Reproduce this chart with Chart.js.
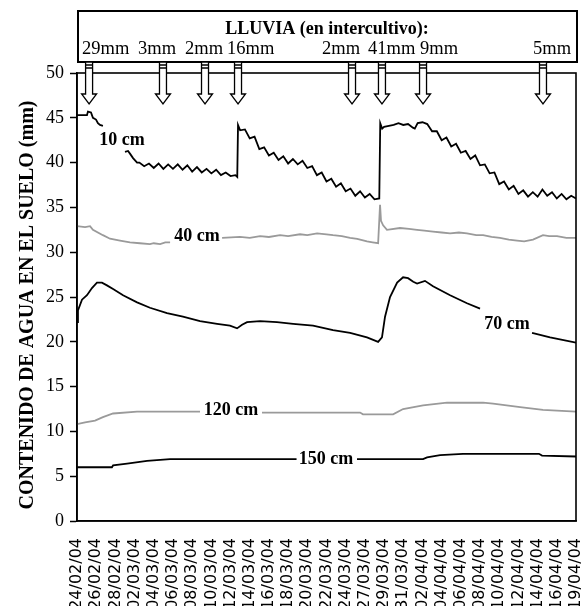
<!DOCTYPE html>
<html><head><meta charset="utf-8">
<script src="https://cdn.jsdelivr.net/npm/chart.js@4.4.0/dist/chart.umd.min.js"></script>
<style>html,body{margin:0;padding:0;background:#fff;}</style>
</head><body>
<canvas id="c" width="582" height="606"></canvas>
<script>
// ---- DATA ----
const dateLabels = ["24/02/04","26/02/04","28/02/04","02/03/04","04/03/04","06/03/04","08/03/04","10/03/04","12/03/04","14/03/04","16/03/04","18/03/04","20/03/04","22/03/04","24/03/04","27/03/04","29/03/04","31/03/04","02/04/04","04/04/04","06/04/04","08/04/04","10/04/04","12/04/04","14/04/04","16/04/04","19/04/04"];
const yTicks = [0,5,10,15,20,25,30,35,40,45,50];
const rainTitle = "LLUVIA (en intercultivo):";
const rainMm = ["29mm","3mm","2mm","16mm","2mm","41mm","9mm","5mm"];
const rainAt = [0.63,4.48,6.67,8.39,14.33,15.89,18.03,24.28];
const seriesNames = ["10 cm","40 cm","70 cm","120 cm","150 cm"];
const yTitle = "CONTENIDO DE AGUA EN EL SUELO (mm)";

const cm10 = [[0,45.3],[0.52,45.3],[0.57,45.7],[0.73,45.6],[0.83,45.0],[0.99,44.8],[1.09,44.4],[1.2,44.2],[1.35,44.1],[1.9,null],
 [2.5,41.2],[2.66,41.3],[2.76,41.0],[2.92,40.5],[3.13,40.0],[3.25,40.0],[3.5,39.6],[3.75,39.9],[4.0,39.4],[4.25,39.9],[4.5,39.3],[4.75,39.8],[5.0,39.3],[5.25,39.8],[5.5,39.2],[5.75,39.7],[6.0,39.0],[6.25,39.5],[6.5,38.9],[6.75,39.3],[7.0,38.8],[7.25,39.2],[7.5,38.6],[7.75,38.9],[8.0,38.5],[8.25,38.6],[8.35,38.4],
 [8.39,44.2],[8.5,43.6],[8.75,43.7],[9.0,42.7],[9.25,42.9],[9.5,41.5],[9.75,41.7],[10.0,40.8],[10.25,41.1],[10.5,40.3],[10.75,40.7],[11.0,39.9],[11.25,40.4],[11.5,39.8],[11.75,40.2],[12.0,39.4],[12.25,39.6],[12.5,38.6],[12.75,38.9],[13.0,37.9],[13.25,38.2],[13.5,37.3],[13.75,37.7],[14.0,36.8],[14.25,37.1],[14.5,36.3],[14.75,36.8],[15.0,36.1],[15.25,36.5],[15.5,35.9],[15.75,36.0],
 [15.8,44.4],[15.9,43.8],[16.0,44.0],[16.25,44.1],[16.5,44.2],[16.75,44.4],[17.0,44.2],[17.25,44.3],[17.5,43.9],[17.6,43.8],[17.75,44.4],[18.0,44.5],[18.25,44.3],[18.5,43.5],[18.75,43.5],[19.0,42.5],[19.25,42.8],[19.5,41.8],[19.75,42.1],[20.0,41.1],[20.25,41.3],[20.5,40.4],[20.75,40.8],[21.0,39.7],[21.25,39.8],[21.5,38.8],[21.75,38.9],[22.0,37.6],[22.25,37.9],[22.5,37.0],[22.75,37.4],[23.0,36.5],[23.25,36.9],[23.5,36.2],[23.75,36.7],[24.0,36.2],[24.25,37.0],[24.5,36.3],[24.75,36.7],[25.0,36.0],[25.25,36.5],[25.5,35.9],[25.75,36.3],[26.0,36.0]];

const cm40 = [[0,32.9],[0.42,32.8],[0.68,32.9],[0.83,32.5],[1.35,31.9],[1.72,31.5],[2.24,31.3],[2.76,31.1],[3.28,31.0],[3.8,30.9],[4.0,31.0],[4.33,30.9],[4.6,31.1],[4.85,31.1],[5.5,null],
 [7.56,31.6],[8.49,31.7],[9.0,31.6],[9.54,31.8],[10.0,31.7],[10.58,31.9],[11.0,31.8],[11.62,32.0],[12.0,31.9],[12.51,32.1],[13.0,32.0],[13.34,31.9],[13.8,31.8],[14.23,31.6],[14.6,31.5],[15.11,31.2],[15.4,31.1],[15.69,31.0],
 [15.79,35.3],[15.84,33.5],[15.95,33.0],[16.15,32.5],[16.83,32.7],[17.3,32.6],[17.72,32.5],[18.1,32.4],[18.55,32.3],[19.0,32.2],[19.44,32.1],[19.9,32.2],[20.32,32.1],[20.8,31.9],[21.16,31.9],[21.6,31.7],[22.04,31.6],[22.5,31.4],[22.93,31.3],[23.3,31.2],[23.76,31.4],[24.28,31.9],[24.6,31.8],[25.01,31.8],[25.5,31.6],[26.0,31.6]];

const cm70 = [[0,22.2],[0.05,23.5],[0.26,24.7],[0.52,25.2],[0.78,26.0],[1.04,26.6],[1.3,26.6],[1.56,26.3],[1.88,25.9],[2.4,25.2],[3.13,24.4],[3.8,23.8],[4.69,23.2],[5.52,22.8],[6.41,22.3],[7.3,22.0],[7.97,21.8],[8.34,21.5],[8.6,21.9],[8.86,22.2],[9.54,22.3],[10.42,22.2],[11.26,22.0],[12.3,21.8],[13.34,21.3],[14.23,21.0],[15.11,20.5],[15.69,20.0],[15.89,20.5],[16.05,22.8],[16.31,25.0],[16.68,26.6],[16.99,27.2],[17.25,27.1],[17.52,26.7],[17.72,26.5],[18.13,26.8],[18.55,26.2],[19.44,25.2],[20.32,24.3],[21.0,23.7],[22.0,null],[23.71,21.0],[24.65,20.5],[26.0,19.9]];

const cm120 = [[0,10.8],[0.42,11.0],[0.94,11.2],[1.35,11.6],[1.88,12.0],[3.13,12.2],[6.41,12.2],[7.5,null],[9.64,12.1],[14.75,12.1],[14.9,11.9],[16.47,11.9],[16.99,12.5],[18.03,12.9],[19.28,13.2],[21.16,13.2],[21.68,13.1],[23.09,12.7],[24.28,12.4],[26.0,12.2]];

const cm150 = [[0,6.0],[1.82,6.0],[1.88,6.2],[2.61,6.4],[3.65,6.7],[4.85,6.9],[11.44,6.9],[13.0,null],[14.59,6.9],[18.03,6.9],[18.24,7.1],[18.92,7.35],[20.11,7.5],[24.07,7.5],[24.23,7.3],[26.0,7.2]];

// ---- STYLE ----
const BLACK = '#000000', GRAY = '#9a9a9a';
const toXY = arr => arr.map(p => ({x: p[0], y: p[1]}));
const mkDs = (label, arr, color) => ({label, data: toXY(arr), borderColor: color, borderWidth: 1.8, pointRadius: 0, tension: 0, spanGaps: false, fill: false});

// label anchor positions (data coords) for the series names
const nameAnchors = [[2.34,42.5],[6.25,31.8],[22.41,22.0],[8.03,12.3],[12.98,6.9]];
const mmLabelLeft = [82,138,185,227,322,368,420,533];

function drawArrow(ctx, cx) {
  ctx.beginPath();
  ctx.moveTo(cx-3.5, 62); ctx.lineTo(cx-3.5, 94); ctx.lineTo(cx-7.5, 94);
  ctx.lineTo(cx, 104); ctx.lineTo(cx+7.5, 94); ctx.lineTo(cx+3.5, 94);
  ctx.lineTo(cx+3.5, 62); ctx.closePath();
  ctx.fillStyle = '#fff'; ctx.fill();
  ctx.lineWidth = 1.3; ctx.strokeStyle = '#000'; ctx.stroke();
  ctx.beginPath();
  ctx.moveTo(cx-3.5, 65); ctx.lineTo(cx+3.5, 65);
  ctx.moveTo(cx-3.5, 68); ctx.lineTo(cx+3.5, 68);
  ctx.stroke();
}

const overlay = {
  id: 'overlay',
  afterDraw(chart) {
    const {ctx, chartArea: a, scales: {x, y}} = chart;
    ctx.save();
    ctx.strokeStyle = '#000'; ctx.lineWidth = 1.6;
    ctx.strokeRect(a.left, a.top, a.right - a.left, a.bottom - a.top);
    // rain box
    ctx.lineWidth = 2;
    ctx.strokeRect(78, 11, 499, 51);
    ctx.fillStyle = '#000';
    ctx.font = 'bold 18px "Liberation Serif"';
    ctx.textAlign = 'center'; ctx.textBaseline = 'alphabetic';
    ctx.fillText(rainTitle, 327, 34);
    ctx.font = '18.5px "Liberation Serif"';
    ctx.textAlign = 'left';
    rainMm.forEach((t, i) => ctx.fillText(t, mmLabelLeft[i], 54));
    rainAt.forEach(v => drawArrow(ctx, x.getPixelForValue(v)));
    // series names
    ctx.fillStyle = '#000';
    ctx.font = 'bold 18px "Liberation Serif"';
    ctx.textAlign = 'center'; ctx.textBaseline = 'middle';
    seriesNames.forEach((n, i) => {
      ctx.fillText(n, x.getPixelForValue(nameAnchors[i][0]), y.getPixelForValue(nameAnchors[i][1]));
    });
    // y title
    ctx.translate(28, 305); ctx.rotate(-Math.PI/2);
    ctx.font = 'bold 20px "Liberation Serif"';
    ctx.fillText(yTitle, 0, 0);
    ctx.restore();
  }
};

new Chart(document.getElementById('c'), {
  type: 'line',
  data: {
    datasets: [
      mkDs(seriesNames[0], cm10, BLACK),
      mkDs(seriesNames[1], cm40, GRAY),
      mkDs(seriesNames[2], cm70, BLACK),
      mkDs(seriesNames[3], cm120, GRAY),
      mkDs(seriesNames[4], cm150, BLACK)
    ]
  },
  options: {
    responsive: false, animation: false, devicePixelRatio: 1,
    layout: {padding: {left: 0, top: 73, right: 6, bottom: 0}},
    plugins: {legend: {display: false}, tooltip: {enabled: false}},
    scales: {
      x: {
        type: 'linear', min: 0, max: dateLabels.length - 1,
        grid: {display: false},
        border: {display: true, color: '#000', width: 1.6},
        ticks: {
          stepSize: 1, autoSkip: false, maxRotation: 90, minRotation: 90, padding: 9,
          color: '#000', font: {family: 'DejaVu Sans', size: 16},
          callback: v => dateLabels[v] ?? ''
        },
        afterFit(s) { s.height = 85; s.paddingLeft = 0; s.paddingRight = 0; }
      },
      y: {
        min: 0, max: 50,
        afterBuildTicks(s) { s.ticks = yTicks.map(v => ({value: v})); },
        grid: {drawOnChartArea: false, drawTicks: true, tickLength: 7, tickColor: '#000', tickWidth: 1.5},
        border: {display: true, color: '#000', width: 1.6},
        ticks: {color: '#000', padding: 6, font: {family: 'Liberation Serif', size: 18}},
        afterFit(s) { s.width = 77; s.paddingTop = 0; s.paddingBottom = 0; }
      }
    }
  },
  plugins: [overlay]
});
</script>
</body></html>
